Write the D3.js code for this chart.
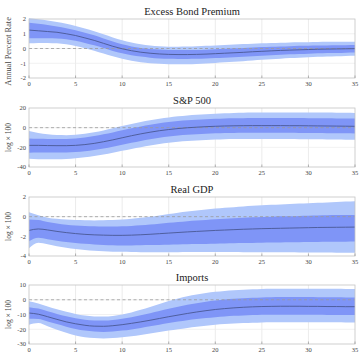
<!DOCTYPE html>
<html>
<head>
<meta charset="utf-8">
<script src="https://cdn.jsdelivr.net/npm/d3@7"></script>
<style>
  body { margin: 0; background: #fff; }
  svg { display: block; }
  text { font-family: "Liberation Serif", "DejaVu Serif", serif; }
</style>
</head>
<body>
<div id="chart"></div>
<script>
const horizons = d3.range(0, 36);
const xTicks = [0, 5, 10, 15, 20, 25, 30, 35];

const titles = ["Excess Bond Premium", "S&P 500", "Real GDP", "Imports"];
const yLabels = ["Annual Percent Rate", "log \u00d7 100", "log \u00d7 100", "log \u00d7 100"];
const yDomains = [[-2, 2], [-40, 20], [-4, 2], [-30, 10]];
const yTicks = [[-2, -1, 0, 1, 2], [-40, -20, 0, 20], [-4, -2, 0, 2], [-30, -20, -10, 0, 10]];

// Excess bond premium
const ebpMed = [1.25,1.2,1.15,1.1,1.0,0.88,0.72,0.55,0.35,0.15,-0.02,-0.15,-0.25,-0.32,-0.37,-0.4,-0.41,-0.41,-0.4,-0.38,-0.35,-0.32,-0.29,-0.26,-0.22,-0.19,-0.16,-0.13,-0.11,-0.09,-0.07,-0.05,-0.04,-0.03,-0.02,-0.01];
const ebpHi68 = [1.75,1.68,1.6,1.5,1.38,1.24,1.07,0.89,0.68,0.47,0.28,0.14,0.04,-0.03,-0.07,-0.1,-0.11,-0.11,-0.1,-0.08,-0.05,-0.02,0.01,0.04,0.07,0.1,0.12,0.14,0.16,0.18,0.19,0.2,0.21,0.22,0.22,0.23];
const ebpLo68 = [0.7,0.7,0.7,0.68,0.62,0.52,0.38,0.22,0.03,-0.17,-0.33,-0.45,-0.55,-0.62,-0.67,-0.7,-0.71,-0.71,-0.7,-0.68,-0.65,-0.62,-0.59,-0.56,-0.52,-0.49,-0.45,-0.42,-0.39,-0.37,-0.35,-0.33,-0.31,-0.3,-0.28,-0.27];
const ebpHi90 = [2.05,1.98,1.9,1.8,1.68,1.53,1.36,1.17,0.96,0.75,0.56,0.4,0.28,0.2,0.15,0.12,0.12,0.13,0.15,0.18,0.21,0.24,0.27,0.3,0.33,0.35,0.37,0.39,0.41,0.42,0.43,0.44,0.45,0.45,0.46,0.46];
const ebpLo90 = [0.35,0.38,0.38,0.35,0.28,0.17,0.02,-0.15,-0.34,-0.53,-0.7,-0.83,-0.93,-1.0,-1.04,-1.06,-1.07,-1.07,-1.05,-1.02,-0.98,-0.94,-0.9,-0.86,-0.81,-0.77,-0.73,-0.69,-0.65,-0.62,-0.59,-0.56,-0.54,-0.52,-0.5,-0.49];

// S&P 500
const spMed = [-18,-18,-18.2,-18.3,-18.3,-18,-17.2,-16,-14.3,-12.4,-10.3,-8.2,-6.3,-4.6,-3.1,-1.9,-0.9,-0.1,0.5,1,1.4,1.7,1.9,2,2.1,2.1,2.1,2.1,2,2,1.9,1.8,1.7,1.6,1.5,1.4];
const spHi68 = [-11,-11.3,-11.5,-11.6,-11.5,-11,-10,-8.6,-6.8,-4.8,-2.7,-0.6,1.3,3,4.5,5.7,6.7,7.5,8.1,8.6,9,9.3,9.5,9.7,9.8,9.9,9.9,9.9,9.9,9.8,9.7,9.6,9.5,9.4,9.3,9.2];
const spLo68 = [-25.5,-25.3,-25.3,-25.3,-25.2,-24.8,-24,-22.8,-21.2,-19.4,-17.4,-15.4,-13.5,-11.8,-10.3,-9,-8,-7.2,-6.6,-6.1,-5.8,-5.5,-5.3,-5.2,-5.1,-5.1,-5.1,-5.1,-5.2,-5.3,-5.4,-5.5,-5.6,-5.7,-5.8,-5.9];
const spHi90 = [-3.5,-5.5,-6.8,-7.5,-7.6,-7.2,-6.2,-4.7,-2.8,-0.6,1.6,3.8,5.8,7.6,9.1,10.4,11.5,12.4,13.1,13.7,14.2,14.6,14.9,15.1,15.3,15.4,15.5,15.5,15.5,15.5,15.4,15.4,15.3,15.2,15.1,15];
const spLo90 = [-31.5,-32,-32.2,-32.2,-31.9,-31.2,-30.2,-28.9,-27.3,-25.5,-23.6,-21.7,-19.9,-18.2,-16.7,-15.4,-14.4,-13.6,-13,-12.5,-12.1,-11.8,-11.6,-11.5,-11.4,-11.4,-11.4,-11.5,-11.6,-11.7,-11.8,-11.9,-12,-12.1,-12.2,-12.3];

// Real GDP
const gdpMed = [-1.4,-1.25,-1.35,-1.5,-1.62,-1.72,-1.8,-1.85,-1.88,-1.9,-1.9,-1.88,-1.84,-1.79,-1.73,-1.67,-1.61,-1.55,-1.5,-1.45,-1.4,-1.36,-1.32,-1.28,-1.25,-1.22,-1.2,-1.18,-1.16,-1.14,-1.12,-1.1,-1.09,-1.08,-1.07,-1.06];
const gdpHi68 = [-0.3,-0.35,-0.55,-0.7,-0.82,-0.9,-0.95,-0.98,-1,-1,-0.98,-0.94,-0.88,-0.8,-0.72,-0.63,-0.55,-0.47,-0.4,-0.33,-0.27,-0.21,-0.16,-0.11,-0.07,-0.03,0,0.03,0.05,0.08,0.1,0.12,0.14,0.16,0.17,0.18];
const gdpLo68 = [-2.5,-2.15,-2.3,-2.45,-2.58,-2.68,-2.76,-2.82,-2.87,-2.9,-2.92,-2.92,-2.91,-2.89,-2.87,-2.85,-2.83,-2.81,-2.79,-2.77,-2.75,-2.73,-2.71,-2.69,-2.67,-2.65,-2.63,-2.62,-2.6,-2.59,-2.58,-2.57,-2.56,-2.55,-2.54,-2.53];
const gdpHi90 = [0.45,0.15,-0.1,-0.22,-0.3,-0.35,-0.37,-0.38,-0.37,-0.35,-0.3,-0.22,-0.12,0,0.13,0.27,0.4,0.52,0.63,0.73,0.82,0.9,0.97,1.04,1.1,1.15,1.2,1.25,1.29,1.33,1.37,1.41,1.45,1.49,1.53,1.57];
const gdpLo90 = [-3.2,-2.65,-2.8,-3,-3.15,-3.28,-3.38,-3.46,-3.52,-3.56,-3.58,-3.6,-3.61,-3.61,-3.61,-3.61,-3.61,-3.6,-3.6,-3.6,-3.6,-3.6,-3.6,-3.61,-3.61,-3.62,-3.62,-3.63,-3.63,-3.64,-3.64,-3.65,-3.65,-3.66,-3.66,-3.67];

// Imports
const impMed = [-9,-9.8,-11.5,-13.3,-15,-16.3,-17.3,-17.9,-18,-17.6,-16.9,-16,-15,-13.9,-12.7,-11.5,-10.4,-9.3,-8.3,-7.4,-6.6,-6,-5.5,-5.1,-4.8,-4.6,-4.5,-4.4,-4.4,-4.4,-4.5,-4.5,-4.6,-4.6,-4.7,-4.7];
const impHi68 = [-5,-6,-7.8,-9.6,-11.2,-12.5,-13.5,-14,-14.1,-13.7,-12.9,-11.8,-10.5,-9.1,-7.6,-6.1,-4.7,-3.4,-2.3,-1.3,-0.5,0.2,0.7,1.1,1.4,1.6,1.7,1.8,1.8,1.8,1.8,1.7,1.7,1.7,1.6,1.6];
const impLo68 = [-12.8,-13,-14.7,-16.5,-18.3,-19.8,-20.9,-21.6,-21.8,-21.5,-20.9,-20.1,-19.1,-18,-16.9,-15.8,-14.8,-13.9,-13.1,-12.4,-11.8,-11.3,-10.9,-10.6,-10.4,-10.2,-10.1,-10.1,-10.1,-10.1,-10.2,-10.2,-10.3,-10.3,-10.4,-10.4];
const impHi90 = [-1,-2.5,-4.5,-6.4,-8.2,-9.6,-10.7,-11.3,-11.4,-11,-10,-8.6,-6.8,-4.9,-2.9,-0.9,0.9,2.4,3.6,4.6,5.4,6,6.5,6.8,7.1,7.3,7.4,7.5,7.5,7.5,7.5,7.5,7.4,7.4,7.3,7.3];
const impLo90 = [-17,-15.8,-18,-20.3,-22.4,-24.2,-25.4,-26,-26.2,-26,-25.5,-24.8,-23.9,-22.9,-21.9,-20.9,-20,-19.1,-18.3,-17.6,-17,-16.5,-16.1,-15.8,-15.6,-15.4,-15.3,-15.2,-15.2,-15.2,-15.2,-15.2,-15.3,-15.3,-15.4,-15.4];

const panels = [
    { med: ebpMed, hi68: ebpHi68, lo68: ebpLo68, hi90: ebpHi90, lo90: ebpLo90 },
    { med: spMed, hi68: spHi68, lo68: spLo68, hi90: spHi90, lo90: spLo90 },
    { med: gdpMed, hi68: gdpHi68, lo68: gdpLo68, hi90: gdpHi90, lo90: gdpLo90 },
    { med: impMed, hi68: impHi68, lo68: impLo68, hi90: impHi90, lo90: impLo90 },
];

const width = 362, height = 355;
const margin = { left: 29, right: 7 };
const panelTops = [19, 108, 197, 285];
const panelH = 59;
const innerWidth = width - margin.left - margin.right;

const svg = d3.select("#chart").append("svg")
    .attr("width", width)
    .attr("height", height);

const x = d3.scaleLinear().domain([0, 35]).range([0, innerWidth]);

panels.forEach((p, i) => {
    const g = svg.append("g")
        .attr("transform", "translate(" + margin.left + "," + panelTops[i] + ")");
    const y = d3.scaleLinear().domain(yDomains[i]).range([panelH, 0]);

    // grid
    g.append("g").selectAll("line")
        .data(xTicks.slice(1, -1))
        .enter().append("line")
        .attr("x1", d => x(d)).attr("x2", d => x(d))
        .attr("y1", 0).attr("y2", panelH)
        .attr("stroke", "#e6e6e6").attr("stroke-width", 0.8);
    g.append("g").selectAll("line")
        .data(yTicks[i].slice(1, -1))
        .enter().append("line")
        .attr("x1", 0).attr("x2", innerWidth)
        .attr("y1", d => y(d)).attr("y2", d => y(d))
        .attr("stroke", "#eeeeee").attr("stroke-width", 0.8);

    const band = (lo, hi) => d3.area()
        .x((d, j) => x(horizons[j]))
        .y0((d, j) => y(lo[j]))
        .y1((d, j) => y(hi[j]))
        .curve(d3.curveMonotoneX);

    g.append("path").datum(p.med).attr("d", band(p.lo90, p.hi90)).attr("fill", "#b0c7fb");
    g.append("path").datum(p.med).attr("d", band(p.lo68, p.hi68)).attr("fill", "#7f95f7");

    // zero line
    g.append("line")
        .attr("x1", 0).attr("x2", innerWidth)
        .attr("y1", y(0)).attr("y2", y(0))
        .attr("stroke", "#9a9a9a").attr("stroke-width", 0.8)
        .attr("stroke-dasharray", "3,2.5");

    // median
    g.append("path").datum(p.med)
        .attr("d", d3.line().x((d, j) => x(horizons[j])).y(d => y(d)).curve(d3.curveMonotoneX))
        .attr("fill", "none")
        .attr("stroke", "#4a5894")
        .attr("stroke-width", 0.9);

    // box
    g.append("rect")
        .attr("width", innerWidth).attr("height", panelH)
        .attr("fill", "none").attr("stroke", "#c4c4c4").attr("stroke-width", 0.8);

    // ticks (inward) and labels
    g.selectAll(".xt").data(xTicks).enter().append("line")
        .attr("x1", d => x(d)).attr("x2", d => x(d))
        .attr("y1", panelH).attr("y2", panelH - 2.5)
        .attr("stroke", "#888").attr("stroke-width", 0.6);
    g.selectAll(".xl").data(xTicks).enter().append("text")
        .attr("x", d => x(d)).attr("y", panelH + 8)
        .attr("text-anchor", "middle")
        .attr("fill", "#444")
        .style("font-size", "6.5px")
        .text(d => d);
    g.selectAll(".yl").data(yTicks[i]).enter().append("text")
        .attr("x", -3).attr("y", d => y(d) + 2.3)
        .attr("text-anchor", "end")
        .attr("fill", "#444")
        .style("font-size", "6.5px")
        .text(d => d);

    // title
    g.append("text")
        .attr("x", innerWidth / 2).attr("y", -4)
        .attr("text-anchor", "middle")
        .attr("fill", "#222")
        .style("font-size", "10.5px")
        .text(titles[i]);

    // y label
    g.append("text")
        .attr("transform", "translate(-18," + (panelH / 2 + (i === 0 ? 3 : 0)) + ") rotate(-90)")
        .attr("text-anchor", "middle")
        .attr("fill", "#444")
        .style("font-size", i === 0 ? "8.3px" : "7.5px")
        .text(yLabels[i]);
});
</script>
</body>
</html>
